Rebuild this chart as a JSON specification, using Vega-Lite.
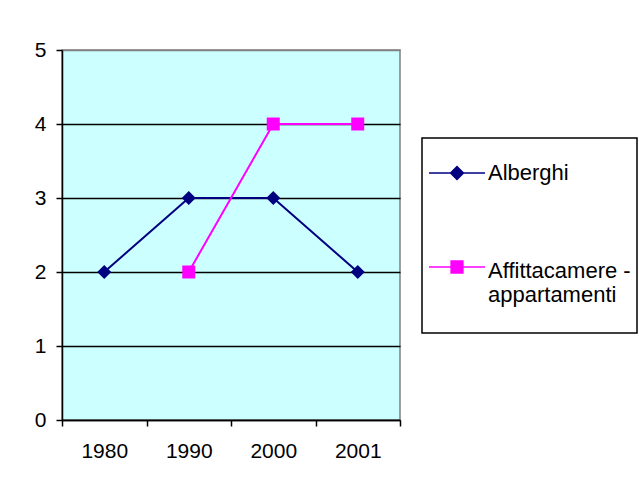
{
  "$schema": "https://vega.github.io/schema/vega-lite/v6.json",
  "width": 338,
  "height": 370,
  "autosize": {"type": "none"},
  "padding": {"left": 62, "top": 50, "right": 239, "bottom": 69},
  "background": "white",
  "data": {
    "values": [
      {"year": "1980", "series": "Alberghi", "value": 2},
      {"year": "1990", "series": "Alberghi", "value": 3},
      {"year": "2000", "series": "Alberghi", "value": 3},
      {"year": "2001", "series": "Alberghi", "value": 2},
      {"year": "1990", "series": "Affittacamere - appartamenti", "value": 2},
      {"year": "2000", "series": "Affittacamere - appartamenti", "value": 4},
      {"year": "2001", "series": "Affittacamere - appartamenti", "value": 4}
    ]
  },
  "encoding": {
    "x": {
      "field": "year",
      "type": "ordinal",
      "sort": ["1980", "1990", "2000", "2001"],
      "scale": {"paddingInner": 0, "paddingOuter": 0},
      "axis": {
        "title": null,
        "labelAngle": 0,
        "labelFont": "Liberation Sans",
        "labelFontSize": 21,
        "labelColor": "black",
        "domainColor": "black",
        "domainWidth": 1.5,
        "tickColor": "black",
        "tickWidth": 1.5,
        "tickSize": 6,
        "tickBand": "extent",
        "labelPadding": 14,
        "grid": false
      }
    },
    "y": {
      "field": "value",
      "type": "quantitative",
      "scale": {"domain": [0, 5], "nice": false},
      "axis": {
        "title": null,
        "values": [0, 1, 2, 3, 4, 5],
        "grid": true,
        "gridColor": {"condition": {"test": "datum.value == 5", "value": "#808080"}, "value": "black"},
        "gridOpacity": 1,
        "gridWidth": 1.5,
        "domainColor": "black",
        "domainWidth": 1.5,
        "tickColor": "black",
        "tickWidth": 1.5,
        "tickSize": 6,
        "labelPadding": 10,
        "labelFont": "Liberation Sans",
        "labelFontSize": 21,
        "labelColor": "black"
      }
    },
    "color": {
      "field": "series",
      "type": "nominal",
      "scale": {"domain": ["Alberghi", "Affittacamere - appartamenti"], "range": ["#000080", "#FF00FF"]},
      "legend": {
        "orient": "none",
        "legendX": 360,
        "legendY": 88,
        "title": " ",
        "titleOrient": "bottom",
        "titleFontSize": 12,
        "titlePadding": 10,
        "strokeColor": "black",
        "padding": 6,
        "symbolSize": 3136,
        "symbolStrokeWidth": 1.5,
        "labelFont": "Liberation Sans",
        "labelFontSize": 22,
        "labelColor": "black",
        "labelLineHeight": 28,
        "labelOffset": 2,
        "labelLimit": 300,
        "rowPadding": 54,
        "labelExpr": "datum.label == 'Affittacamere - appartamenti' ? ['Affittacamere -', 'appartamenti'] : datum.label",
        "encode": {
          "legend": {"update": {"strokeWidth": {"value": 1.5}}},
          "symbols": {
            "update": {
              "shape": {"signal": "datum.value == 'Alberghi' ? 'M-1,0H1M-0.23,0L0,-0.23L0.23,0L0,0.23Z' : 'M-1,0H1M-0.21,-0.21H0.21V0.21H-0.21Z'"},
              "fill": {"signal": "datum.value == 'Alberghi' ? '#000080' : '#FF00FF'"},
              "stroke": {"signal": "datum.value == 'Alberghi' ? '#000080' : '#FF00FF'"},
              "strokeWidth": {"value": 1.5},
              "opacity": {"value": 1}
            }
          },
          "labels": {
            "update": {
              "dy": {"signal": "datum.value == 'Alberghi' ? 0 : 4"}
            }
          }
        }
      }
    }
  },
  "layer": [
    {"mark": {"type": "line", "strokeWidth": 2}},
    {
      "transform": [{"filter": "datum.series == 'Alberghi'"}],
      "mark": {"type": "point", "filled": true, "opacity": 1, "shape": "diamond", "size": 196}
    },
    {
      "transform": [{"filter": "datum.series != 'Alberghi'"}],
      "mark": {"type": "point", "filled": true, "opacity": 1, "shape": "square", "size": 169}
    }
  ],
  "config": {
    "view": {"fill": "#CCFFFF", "stroke": "#808080", "strokeWidth": 1.5}
  }
}
